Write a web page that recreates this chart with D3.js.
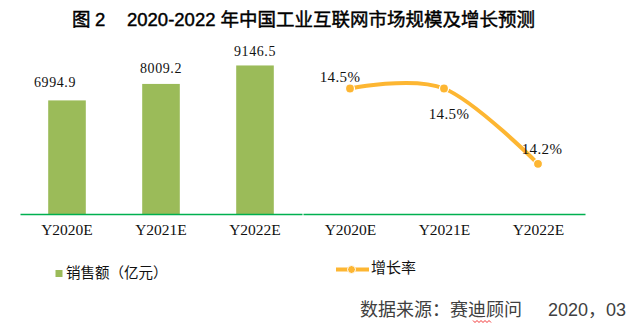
<!DOCTYPE html>
<html>
<head>
<meta charset="utf-8">
<script src="https://cdn.jsdelivr.net/npm/d3@7/dist/d3.min.js"></script>
<style>
  html, body { margin: 0; padding: 0; background: #fff; }
  svg { display: block; }
</style>
</head>
<body>
<script>
// ---- data ----
const categories = ["Y2020E", "Y2021E", "Y2022E"];
const salesValues = [6994.9, 8009.2, 9146.5];
const salesLabels = ["6994.9", "8009.2", "9146.5"];
const growthValues = [14.5, 14.5, 14.2];
const growthLabels = ["14.5%", "14.5%", "14.2%"];
const titleText = "2020-2022 年中国工业互联网市场规模及增长预测";
const legendSales = "销售额（亿元）";
const legendGrowth = "增长率";
const sourceText = "数据来源：赛迪顾问";
const sourceDate = "2020，03";

// ---- style / layout ----
const W = 643, H = 327;
const barColor = "#9BBB59";
const lineColor = "#FDB632";
const axisColor = "#00B050";
const serif = "'Liberation Serif', 'Noto Sans CJK SC', serif";
const cjk = "'Liberation Sans', 'Noto Sans CJK SC', sans-serif";

const svg = d3.select("body").append("svg").attr("width", W).attr("height", H);
svg.append("rect").attr("width", W).attr("height", H).attr("fill", "#fff");

// title
const tg = svg.append("g").attr("font-family", cjk).attr("font-size", 18.5).attr("fill", "#000")
  .attr("font-weight", "normal").attr("stroke", "#000").attr("stroke-width", 0.45);
tg.append("text").attr("x", 72).attr("y", 26).text("图");
tg.append("text").attr("x", 95).attr("y", 26).text("2");
tg.append("text").attr("x", 127).attr("y", 26).text(titleText);

// ---- left: bar chart ----
const baseY = 214;
const xBar = d3.scaleBand().domain(categories).range([20, 302]).paddingInner(0.6).paddingOuter(0.3);
const yBar = d3.scaleLinear().domain([0, 10000]).range([baseY, baseY - 162.4]);

svg.append("g").selectAll("rect").data(salesValues).join("rect")
  .attr("x", (d, i) => xBar(categories[i]))
  .attr("width", xBar.bandwidth())
  .attr("y", d => yBar(d))
  .attr("height", d => yBar(0) - yBar(d))
  .attr("fill", barColor);

const barNudge = [[-12, -13], [0, -11], [0, -9]];
svg.append("g").attr("font-family", serif).attr("font-size", 14).attr("fill", "#111")
  .attr("text-anchor", "middle").attr("letter-spacing", 0.6)
  .selectAll("text").data(salesValues).join("text")
  .attr("x", (d, i) => xBar(categories[i]) + xBar.bandwidth() / 2 + barNudge[i][0])
  .attr("y", (d, i) => yBar(d) + barNudge[i][1])
  .text((d, i) => salesLabels[i]);

const axL = svg.append("g").attr("transform", `translate(0,${baseY})`)
  .call(d3.axisBottom(xBar).tickSize(0).tickPadding(10));
axL.select(".domain").attr("stroke", axisColor).attr("stroke-width", 1.3);
axL.selectAll("text").attr("font-family", serif).attr("font-size", 15.5).attr("fill", "#111").attr("dy", "0.71em");

// ---- right: line chart ----
const xLine = d3.scalePoint().domain(categories).range([303, 585]).padding(0.5);
const yLine = d3.scaleLinear().domain([14, 14.6]).range([baseY, baseY - 150.6]);

const axR = svg.append("g").attr("transform", `translate(0,${baseY})`)
  .call(d3.axisBottom(xLine).tickSize(0).tickPadding(10));
axR.select(".domain").attr("stroke", axisColor).attr("stroke-width", 1.3);
axR.selectAll("text").attr("font-family", serif).attr("font-size", 15.5).attr("fill", "#111").attr("dy", "0.71em");

const line = d3.line()
  .x((d, i) => xLine(categories[i]))
  .y(d => yLine(d))
  .curve(d3.curveCatmullRom.alpha(0));
svg.append("path").datum(growthValues).attr("d", line)
  .attr("fill", "none").attr("stroke", lineColor).attr("stroke-width", 4).attr("stroke-linecap", "round");

svg.append("g").selectAll("circle").data(growthValues).join("circle")
  .attr("cx", (d, i) => xLine(categories[i]))
  .attr("cy", d => yLine(d))
  .attr("r", 4.5)
  .attr("fill", lineColor).attr("stroke", "#fff").attr("stroke-width", 1.2);

const lineNudge = [[-10, -7], [5, 30], [4, -10]];
svg.append("g").attr("font-family", serif).attr("font-size", 15).attr("fill", "#111")
  .attr("text-anchor", "middle").attr("letter-spacing", 0.4)
  .selectAll("text").data(growthValues).join("text")
  .attr("x", (d, i) => xLine(categories[i]) + lineNudge[i][0])
  .attr("y", d => yLine(d))
  .attr("dy", (d, i) => lineNudge[i][1])
  .text((d, i) => growthLabels[i]);

// ---- legends ----
svg.append("rect").attr("x", 55.5).attr("y", 270).attr("width", 7).attr("height", 7).attr("fill", barColor);
svg.append("text").attr("x", 66).attr("y", 278).attr("font-family", cjk).attr("font-size", 14.5).attr("fill", "#111").text(legendSales);

svg.append("line").attr("x1", 336).attr("x2", 369).attr("y1", 269.5).attr("y2", 269.5)
  .attr("stroke", lineColor).attr("stroke-width", 4);
svg.append("circle").attr("cx", 351.5).attr("cy", 269.5).attr("r", 4)
  .attr("fill", lineColor).attr("stroke", "#fff").attr("stroke-width", 1);
svg.append("text").attr("x", 371).attr("y", 273).attr("font-family", cjk).attr("font-size", 15).attr("fill", "#111").text(legendGrowth);

// ---- source ----
svg.append("text").attr("x", 360).attr("y", 316).attr("font-family", cjk).attr("font-size", 18).attr("fill", "#404040").text(sourceText);
svg.append("text").attr("x", 548).attr("y", 316).attr("font-family", cjk).attr("font-size", 18).attr("fill", "#404040").text(sourceDate);
// spell-check squiggle under 迪
const sq = d3.range(0, 10).map(i => [473 + i * 2, 321.5 + (i % 2 ? 1 : -1)]);
svg.append("path").attr("d", d3.line()(sq)).attr("fill", "none").attr("stroke", "#e00").attr("stroke-width", 0.8);
</script>
</body>
</html>
